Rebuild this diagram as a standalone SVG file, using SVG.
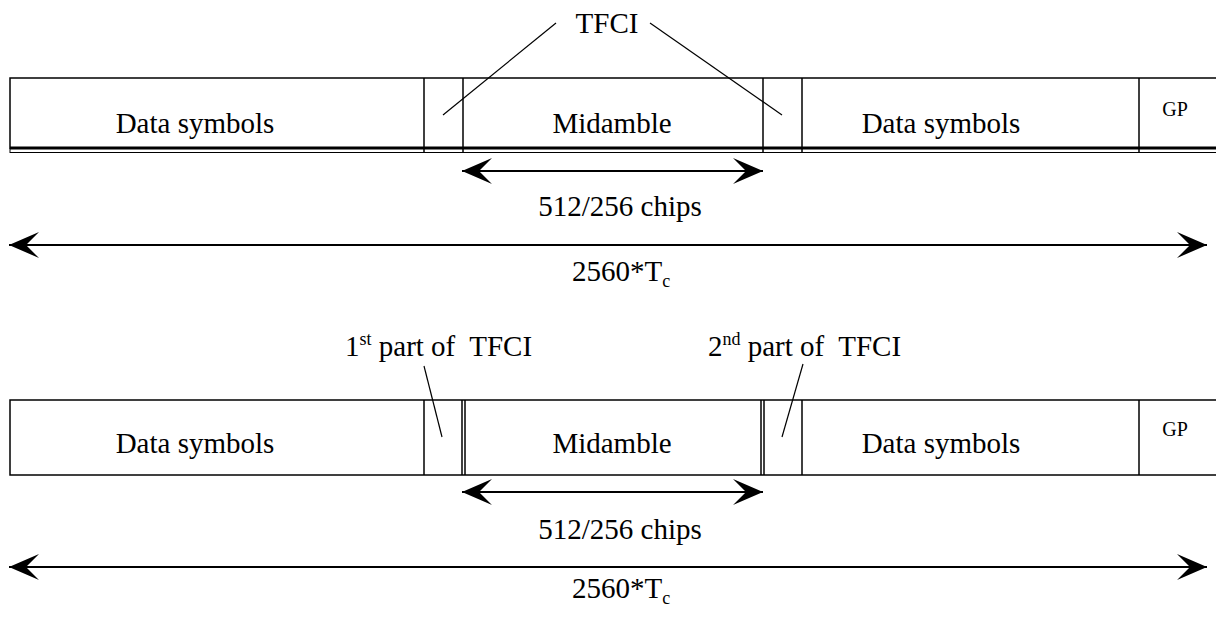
<svg xmlns="http://www.w3.org/2000/svg" width="1216" height="621" viewBox="0 0 1216 621">
<defs>
<style>
.fr{fill:none;stroke:#000;stroke-width:1.5}
.th{fill:none;stroke:#000;stroke-width:3}
.tn{fill:none;stroke:#000;stroke-width:1}
.ln{fill:none;stroke:#000;stroke-width:1.2}
.ar{fill:none;stroke:#000;stroke-width:2}
.t{font-family:'Liberation Serif','DejaVu Serif',serif;font-size:29px;fill:#000}
.sm{font-size:20px}
</style>
<marker id="ah" markerUnits="userSpaceOnUse" viewBox="-31 -14 32 28" refX="0" refY="0" markerWidth="32" markerHeight="28" orient="auto-start-reverse">
<path d="M0,0 L-30,-13 L-17,0 L-30,13 Z" fill="#000"/>
</marker>
</defs>
<rect width="1216" height="621" fill="#fff"/>

<g id="frame1">
<rect class="fr" x="10" y="78" width="1215" height="70"/>
<line class="th" x1="10" y1="148" x2="1216" y2="148"/>
<line class="tn" x1="10" y1="152.5" x2="1216" y2="152.5"/>
<line class="tn" x1="10" y1="148" x2="10" y2="153"/>
</g>
<g id="data1a"><text class="t" font-family="Liberation Serif, DejaVu Serif, serif" x="195" y="133" text-anchor="middle">Data symbols</text></g>
<g id="tfci1a"><line class="fr" x1="424" y1="78" x2="424" y2="153"/></g>
<g id="mid1"><line class="fr" x1="463" y1="78" x2="463" y2="153"/><text class="t" font-family="Liberation Serif, DejaVu Serif, serif" x="612" y="133" text-anchor="middle">Midamble</text></g>
<g id="tfci1b"><line class="fr" x1="763" y1="78" x2="763" y2="153"/><line class="fr" x1="802" y1="78" x2="802" y2="153"/></g>
<g id="data1b"><text class="t" font-family="Liberation Serif, DejaVu Serif, serif" x="941" y="133" text-anchor="middle">Data symbols</text></g>
<g id="gp1"><line class="fr" x1="1139" y1="78" x2="1139" y2="153"/><text class="t sm" font-family="Liberation Serif, DejaVu Serif, serif" x="1175" y="116" text-anchor="middle">GP</text></g>
<g id="tfcilabel"><text class="t" font-family="Liberation Serif, DejaVu Serif, serif" x="607" y="33" text-anchor="middle">TFCI</text></g>

<g id="frame2">
<rect class="fr" x="10" y="400" width="1215" height="75"/>
</g>
<g id="data2a"><text class="t" font-family="Liberation Serif, DejaVu Serif, serif" x="195" y="453" text-anchor="middle">Data symbols</text></g>
<g id="tfci2a"><line class="fr" x1="424" y1="400" x2="424" y2="475"/></g>
<g id="mid2"><line class="fr" x1="462" y1="400" x2="462" y2="475"/><line class="fr" x1="465" y1="400" x2="465" y2="475"/><text class="t" font-family="Liberation Serif, DejaVu Serif, serif" x="612" y="453" text-anchor="middle">Midamble</text></g>
<g id="tfci2b"><line class="fr" x1="761" y1="400" x2="761" y2="475"/><line class="fr" x1="764" y1="400" x2="764" y2="475"/><line class="fr" x1="802" y1="400" x2="802" y2="475"/></g>
<g id="data2b"><text class="t" font-family="Liberation Serif, DejaVu Serif, serif" x="941" y="453" text-anchor="middle">Data symbols</text></g>
<g id="gp2"><line class="fr" x1="1139" y1="400" x2="1139" y2="475"/><text class="t sm" font-family="Liberation Serif, DejaVu Serif, serif" x="1175" y="436" text-anchor="middle">GP</text></g>
<g id="label1st"><text class="t" font-family="Liberation Serif, DejaVu Serif, serif" x="345" y="356" xml:space="preserve">1<tspan font-size="18" dy="-11">st</tspan><tspan dy="11"> part of  TFCI</tspan></text></g>
<g id="label2nd"><text class="t" font-family="Liberation Serif, DejaVu Serif, serif" x="708" y="356" xml:space="preserve">2<tspan font-size="18" dy="-11">nd</tspan><tspan dy="11"> part of  TFCI</tspan></text></g>

<g id="connectors">
<line class="ln" x1="443" y1="115" x2="556" y2="23"/>
<line class="ln" x1="650" y1="23" x2="782" y2="115"/>
<line class="ln" x1="424" y1="366" x2="442" y2="437"/>
<line class="ln" x1="803" y1="364" x2="782" y2="437"/>
<line class="ar" x1="462" y1="171" x2="763" y2="171" marker-start="url(#ah)" marker-end="url(#ah)"/>
<line class="ar" x1="9" y1="245" x2="1207" y2="245" marker-start="url(#ah)" marker-end="url(#ah)"/>
<line class="ar" x1="462" y1="492" x2="763" y2="492" marker-start="url(#ah)" marker-end="url(#ah)"/>
<line class="ar" x1="9" y1="567" x2="1207" y2="567" marker-start="url(#ah)" marker-end="url(#ah)"/>
</g>
<g id="dimlabels">
<text class="t" font-family="Liberation Serif, DejaVu Serif, serif" x="620" y="216" text-anchor="middle">512/256 chips</text>
<text class="t" font-family="Liberation Serif, DejaVu Serif, serif" x="572" y="281">2560*T<tspan font-size="18" dy="6">c</tspan></text>
<text class="t" font-family="Liberation Serif, DejaVu Serif, serif" x="620" y="539" text-anchor="middle">512/256 chips</text>
<text class="t" font-family="Liberation Serif, DejaVu Serif, serif" x="572" y="598">2560*T<tspan font-size="18" dy="6">c</tspan></text>
</g>
</svg>
